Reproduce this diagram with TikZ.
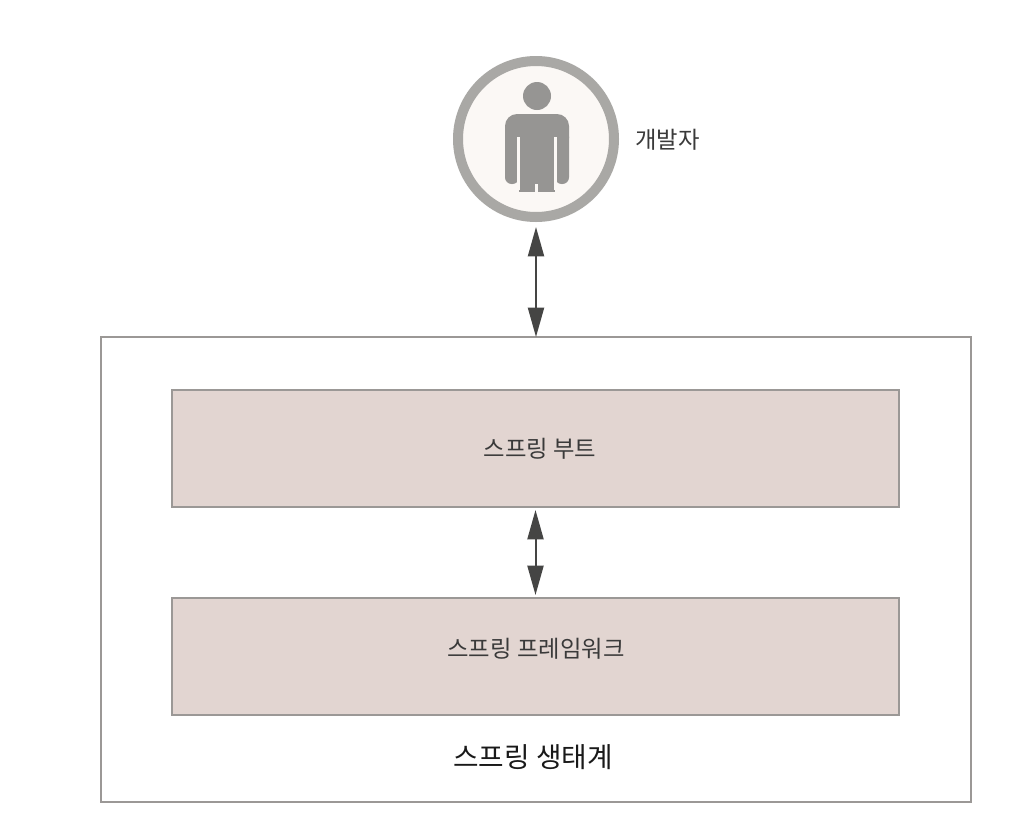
\documentclass[tikz,border=0pt]{standalone}
\usepackage{fontspec}
\setmainfont{Noto Sans CJK KR}
\usetikzlibrary{arrows.meta}
\definecolor{ringgray}{HTML}{A9A8A5}
\definecolor{mangray}{HTML}{969593}
\definecolor{discfill}{HTML}{FBF8F5}
\definecolor{edgegray}{HTML}{9B9896}
\definecolor{boxfill}{HTML}{E2D5D1}
\definecolor{arrowdark}{HTML}{454544}
\definecolor{textdark}{HTML}{3A3A3A}
\tikzset{
  x=0.75pt,y=-0.75pt,
  outerbox/.style={draw=edgegray,line width=1.1pt,fill=white,minimum width=652.5pt,minimum height=348.75pt,inner sep=0pt,outer sep=0pt},
  layerbox/.style={draw=edgegray,line width=1.5pt,fill=boxfill,minimum width=545.25pt,minimum height=87.75pt,inner sep=0pt,outer sep=0pt},
  personring/.style={circle,draw=ringgray,line width=7.5pt,fill=discfill,minimum size=117pt,inner sep=0pt,outer sep=3.75pt},
  label/.style={text=textdark,font=\fontsize{17.5pt}{20pt}\selectfont,inner sep=0pt},
  biglabel/.style={text=black!90,font=\fontsize{20.8pt}{24pt}\selectfont,inner sep=0pt},
  twoway/.style={draw=arrowdark,line width=1.5pt,{Triangle[length=22pt,width=12pt]}-{Triangle[length=22pt,width=12pt]}},
}
\begin{document}
\begin{tikzpicture}
\useasboundingbox (0,0) rectangle (1032,818);
\fill[white] (0,0) rectangle (1032,818);
\node[outerbox] (eco) at (536,569.5) {};
\node[layerbox] (boot) at (535.5,448.5) {};
\node[layerbox] (fw) at (535.5,656.5) {};
\node[personring] (dev) at (536,139) {};
\fill[mangray] (537,96) circle (14);
\fill[mangray,rounded corners=9] (505,114) rectangle (569,150);
\fill[mangray,rounded corners=5] (505,130) rectangle (519,184);
\fill[mangray,rounded corners=5] (555,130) rectangle (569,184);
\fill[mangray] (519,130) rectangle (555,192);
\fill[discfill] (517,137) rectangle (520,190);
\fill[discfill] (554,137) rectangle (557,190);
\fill[discfill] (535,184) rectangle (538,192);
\node[label,anchor=west] (devlabel) at (635,140) {개발자};
\node[label] (bootlabel) at (540,449) {스프링 부트};
\node[label] (fwlabel) at (536,649) {스프링 프레임워크};
\node[biglabel] (ecolabel) at (533,757) {스프링 생태계};
\draw[twoway,shorten <=3.75pt] (dev.south) -- (dev.south |- eco.north);
\draw[twoway,shorten <=2.25pt,shorten >=2.25pt] (boot.south) -- (fw.north);
\end{tikzpicture}
\end{document}
